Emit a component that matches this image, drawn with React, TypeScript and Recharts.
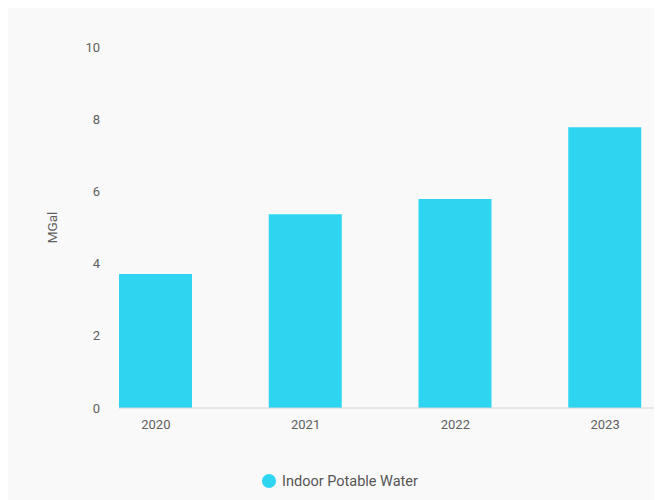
import { Bar, BarChart, Label, Legend, XAxis, YAxis } from 'recharts';

const years = ['2020', '2021', '2022', '2023'];
const indoorPotableWater = [3.71, 5.37, 5.79, 7.78];
const yTicks = [0, 2, 4, 6, 8, 10];

const data = years.map((year, i) => ({ year, water: indoorPotableWater[i] }));

const barColor = '#2dd5f1';
const font = 'Roboto, sans-serif';

function LegendContent() {
    return (
        <div
            style={{
                display: 'flex',
                justifyContent: 'center',
                alignItems: 'center',
                height: 20,
                paddingLeft: 10,
                fontFamily: font,
                fontSize: 14.5,
                color: '#555555',
            }}
        >
            <span
                style={{
                    display: 'inline-block',
                    width: 14,
                    height: 14,
                    borderRadius: '50%',
                    background: barColor,
                    marginRight: 6,
                }}
            />
            <span>Indoor Potable Water</span>
        </div>
    );
}

export default function App() {
    return (
        <div style={{ marginTop: -6, width: 654, height: 498, background: '#f9f9f9' }}>
            <BarChart
                width={654}
                height={498}
                data={data}
                margin={{ top: 45, right: 0, bottom: 42, left: 0 }}
            >
                <XAxis
                    dataKey="year"
                    height={30}
                    padding={{ left: -38, right: -18 }}
                    tickLine={false}
                    tickSize={0}
                    tickMargin={12}
                    axisLine={{ stroke: '#d4d4d4' }}
                    tick={{ fill: '#5f5f5f', fontSize: 13, fontFamily: font }}
                />
                <YAxis
                    width={111}
                    domain={[0, 10]}
                    ticks={yTicks}
                    axisLine={false}
                    tickLine={false}
                    tickSize={0}
                    tickMargin={19}
                    tick={{ fill: '#5f5f5f', fontSize: 13, fontFamily: font }}
                >
                    <Label
                        value="MGal"
                        angle={-90}
                        position="center"
                        dx={-11}
                        style={{ fill: '#5f5f5f', fontSize: 13.5, fontFamily: font }}
                    />
                </YAxis>
                <Legend
                    verticalAlign="bottom"
                    height={20}
                    wrapperStyle={{ bottom: 9 }}
                    content={() => <LegendContent />}
                />
                <Bar dataKey="water" fill={barColor} barSize={73} isAnimationActive={false} />
            </BarChart>
        </div>
    );
}
